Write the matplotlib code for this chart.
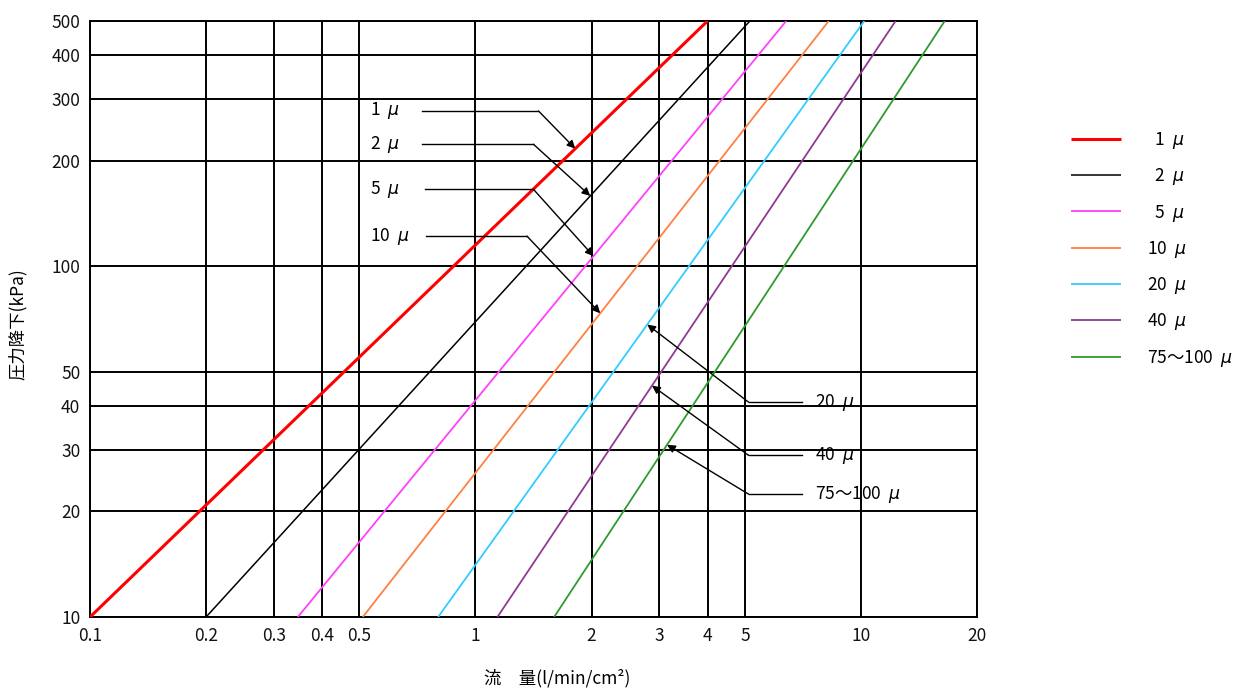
import numpy as np
import matplotlib
matplotlib.use('Agg')
from matplotlib import pyplot as plt

plt.rcParams['font.family'] = ['Noto Sans CJK JP', 'DejaVu Sans']

# ---------------- data ----------------
# each line is straight on log-log paper: flow at 10 kPa and flow at 500 kPa
series_names = ['1  $\\mu$', '2  $\\mu$', '5  $\\mu$', '10  $\\mu$', '20  $\\mu$', '40  $\\mu$', '75～100  $\\mu$']
legend_labels = ['  1  $\\mu$', '  2  $\\mu$', '  5  $\\mu$', '10  $\\mu$', '20  $\\mu$', '40  $\\mu$', '75～100  $\\mu$']
flow_at_10kpa = [0.1, 0.2, 0.346, 0.51, 0.80, 1.14, 1.60]
flow_at_500kpa = [4.0, 5.15, 6.4, 8.25, 10.2, 12.3, 16.5]
pressure_ends = [10, 500]

x_ticks = [0.1, 0.2, 0.3, 0.4, 0.5, 1, 2, 3, 4, 5, 10, 20]
x_ticklabels = ['0.1', '0.2', '0.3', '0.4', '0.5', '1', '2', '3', '4', '5', '10', '20']
y_ticks = [10, 20, 30, 40, 50, 100, 200, 300, 400, 500]
y_ticklabels = ['10', '20', '30', '40', '50', '100', '200', '300', '400', '500']

colors = ['#ff0000', '#000000', '#ff40ff', '#ff8040', '#33ccff', '#8e3a92', '#2f9a2f']
widths = [2.2, 1.1, 1.3, 1.3, 1.3, 1.3, 1.3]

# annotation flow values where each arrow hits its line
arrow_flow = [1.815, 1.985, 2.024, 2.107, 2.79, 2.87, 3.14]


def line_p(i, q):
    q0, q1 = flow_at_10kpa[i], flow_at_500kpa[i]
    k = np.log10(500 / 10) / np.log10(q1 / q0)
    return 10 * (q / q0) ** k


fig = plt.figure(figsize=(12.49, 6.88), dpi=100)
ax = fig.add_axes([0.0721, 0.1032, 0.7101, 0.8663])
ax.set_xscale('log')
ax.set_yscale('log')
ax.set_xlim(0.1, 20)
ax.set_ylim(10, 500)

handles = []
for i in range(len(series_names)):
    h, = ax.plot([flow_at_10kpa[i], flow_at_500kpa[i]], pressure_ends,
                 color=colors[i], lw=widths[i], zorder=3, solid_capstyle='butt')
    handles.append(h)

ax.set_xticks(x_ticks)
ax.set_xticklabels(x_ticklabels)
ax.set_yticks(y_ticks)
ax.set_yticklabels(y_ticklabels)
ax.minorticks_off()
ax.tick_params(axis='both', length=0, labelsize=12.5, colors='#111111')
ax.tick_params(axis='x', pad=7)
ax.tick_params(axis='y', pad=7)
ax.grid(True, color='black', lw=1.4, zorder=1)
for s in ax.spines.values():
    s.set_color('black')
    s.set_linewidth(1.4)

# ---------------- call-out labels ----------------
arrowprops = dict(arrowstyle='-|>', color='black', lw=1.0, mutation_scale=12,
                  shrinkA=0, shrinkB=0)

# left group: label, line from text to bend, then arrow down-right
left_text_y = [277, 222.6, 165.6, 121.8]
left_line_start = [0.728, 0.728, 0.739, 0.744]
left_bend = [1.457, 1.414, 1.414, 1.36]
for i in range(4):
    yy = left_text_y[i]
    ax.text(0.533, yy, series_names[i], fontsize=12.5, va='center', ha='left', zorder=5)
    ax.plot([left_line_start[i], left_bend[i]], [yy, yy], color='black', lw=1.0, zorder=4)
    q = arrow_flow[i]
    ax.annotate('', xy=(q, line_p(i, q)), xytext=(left_bend[i], yy),
                arrowprops=arrowprops, zorder=4)

# right group: arrow up-left from bend, line to text
right_text_y = [40.97, 28.9, 22.4]
for j in range(3):
    i = j + 4
    yy = right_text_y[j]
    ax.plot([5.11, 7.05], [yy, yy], color='black', lw=1.0, zorder=4)
    ax.text(7.61, yy, series_names[i], fontsize=12.5, va='center', ha='left', zorder=5)
    q = arrow_flow[i]
    ax.annotate('', xy=(q, line_p(i, q)), xytext=(5.11, yy),
                arrowprops=arrowprops, zorder=4)

# ---------------- axis titles ----------------
fig.text(0.0145, 1 - 324 / 688, '圧力降下(kPa)', rotation=90, fontsize=12.5,
         ha='center', va='center')
fig.text(557 / 1249, 10 / 688, '流　量(l/min/cm²)', fontsize=12.5,
         ha='center', va='center')

# ---------------- legend ----------------
fig.legend(handles, legend_labels, loc='upper left',
           bbox_to_anchor=(1064 / 1249, 1 - 123 / 688), frameon=False,
           fontsize=12.5, handlelength=2.9, handletextpad=1.5, labelspacing=0.88,
           borderaxespad=0)

fig.savefig('out.png', dpi=100)
